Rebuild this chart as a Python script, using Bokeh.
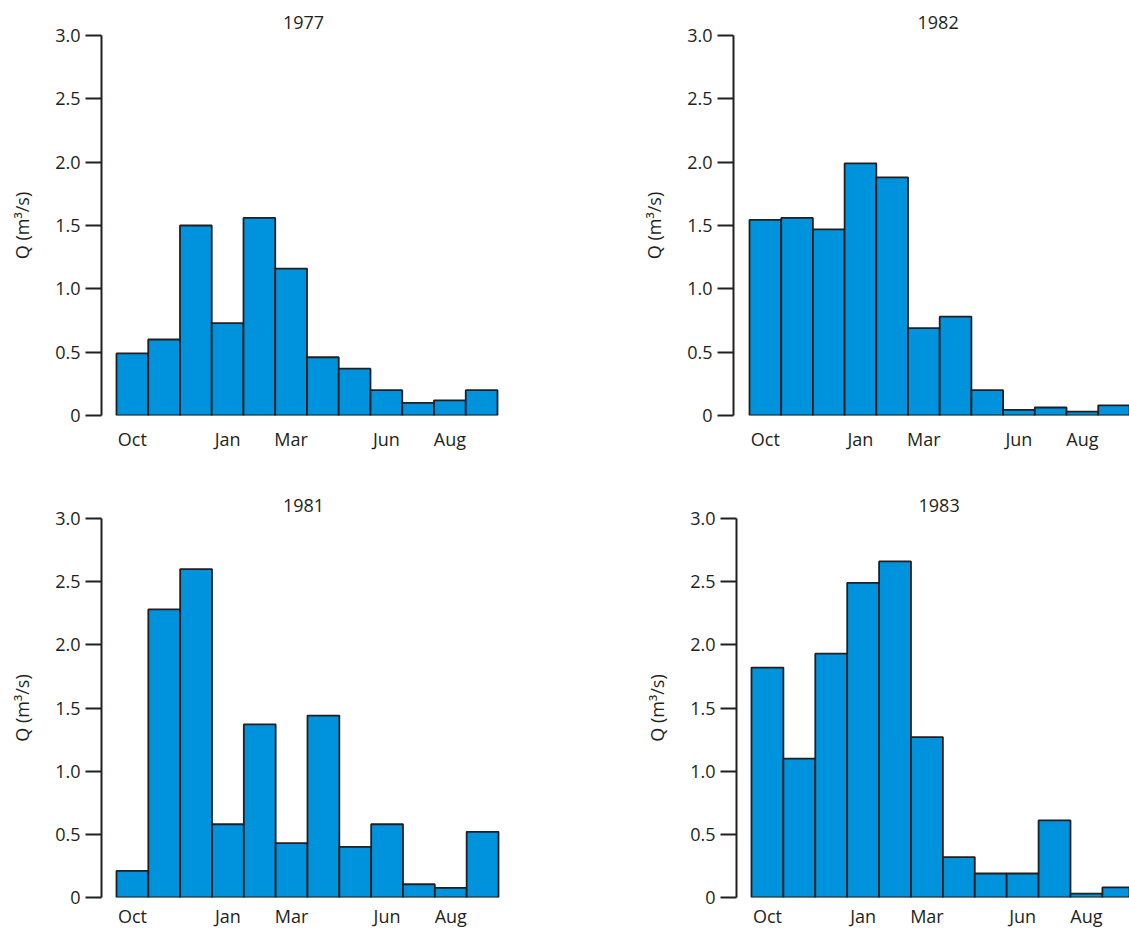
from bokeh.plotting import figure
from bokeh.layouts import column, row
from bokeh.models import FixedTicker, ColumnDataSource, Range1d
from bokeh.embed import file_html
from bokeh.resources import INLINE

# ---- data ----
months = ["Oct", "Nov", "Dec", "Jan", "Feb", "Mar", "Apr", "May", "Jun", "Jul", "Aug", "Sep"]
shown_months = ["Oct", "Jan", "Mar", "Jun", "Aug"]
q_1977 = [0.49, 0.60, 1.50, 0.73, 1.56, 1.16, 0.46, 0.37, 0.20, 0.10, 0.12, 0.20]
q_1982 = [1.545, 1.56, 1.47, 1.99, 1.88, 0.69, 0.78, 0.20, 0.045, 0.063, 0.03, 0.08]
q_1981 = [0.21, 2.28, 2.60, 0.58, 1.37, 0.43, 1.44, 0.40, 0.58, 0.105, 0.076, 0.52]
q_1983 = [1.82, 1.10, 1.93, 2.49, 2.66, 1.27, 0.32, 0.19, 0.19, 0.61, 0.03, 0.08]
y_ticks = [0, 0.5, 1.0, 1.5, 2.0, 2.5, 3.0]
y_tick_labels = ["0", "0.5", "1.0", "1.5", "2.0", "2.5", "3.0"]
y_label = "Q (m\u00b3/s)"

FONT = "Open Sans"
INK = "#231f20"
BLUE = "#0093dd"
FS = "18px"


def make_panel(title, values, width, height, b_left, b_right, b_top, b_bottom,
               x_start, x_end, title_align, title_offset, xlab_standoff):
    p = figure(width=width, height=height, output_backend="svg", toolbar_location=None,
               x_range=Range1d(x_start, x_end), y_range=Range1d(0, 3.0),
               min_border_left=b_left, min_border_right=b_right,
               min_border_top=b_top, min_border_bottom=b_bottom,
               background_fill_color="white", border_fill_color="white")
    p.outline_line_color = None
    p.grid.visible = False

    idx = list(range(len(months)))
    src = ColumnDataSource(dict(x=idx, top=values, month=months))
    p.vbar(x="x", top="top", bottom=0, width=1.0, source=src,
           fill_color=BLUE, line_color=INK, line_width=1.8)

    # title
    p.title.text = title
    p.title.align = title_align
    p.title.text_font = FONT
    p.title.text_font_size = FS
    p.title.text_font_style = "normal"
    p.title.text_color = INK
    p.title.standoff = 14
    p.title.offset = title_offset

    # x axis
    xa = p.xaxis[0]
    xa.ticker = FixedTicker(ticks=[months.index(m) for m in shown_months])
    xa.major_label_overrides = {months.index(m): m for m in shown_months}
    xa.axis_line_color = None
    xa.major_tick_line_color = None
    xa.minor_tick_line_color = None
    xa.major_tick_out = 0
    xa.major_tick_in = 0
    xa.major_label_standoff = xlab_standoff
    xa.major_label_text_font = FONT
    xa.major_label_text_font_size = FS
    xa.major_label_text_color = INK

    # y axis
    ya = p.yaxis[0]
    ya.ticker = FixedTicker(ticks=y_ticks)
    ya.major_label_overrides = {t: l for t, l in zip(y_ticks, y_tick_labels)}
    ya.axis_line_color = INK
    ya.axis_line_width = 2
    ya.major_tick_line_color = INK
    ya.major_tick_line_width = 2
    ya.major_tick_out = 16
    ya.major_tick_in = 0
    ya.minor_tick_line_color = None
    ya.major_label_standoff = 5
    ya.major_label_text_font = FONT
    ya.major_label_text_font_size = FS
    ya.major_label_text_color = INK
    ya.axis_label = y_label
    ya.axis_label_text_font = FONT
    ya.axis_label_text_font_size = FS
    ya.axis_label_text_font_style = "normal"
    ya.axis_label_text_color = INK
    ya.axis_label_standoff = 18
    return p


p1 = make_panel("1977", q_1977, 568, 468, 101, 63, 35, 53, -0.972, 11.752, "center", 0, 11)
p2 = make_panel("1982", q_1982, 561, 468, 165, 0, 35, 53, -1.005, 11.487, "left", 184, 11)
p3 = make_panel("1981", q_1981, 568, 462, 101, 63, 50, 31, -0.971, 11.72, "center", 0, 6)
p4 = make_panel("1983", q_1983, 561, 462, 168, 0, 50, 31, -0.97, 11.35, "left", 182, 6)

layout = column(row(p1, p2), row(p3, p4))

with open("out.html", "w") as f:
    f.write(file_html(layout, INLINE))
